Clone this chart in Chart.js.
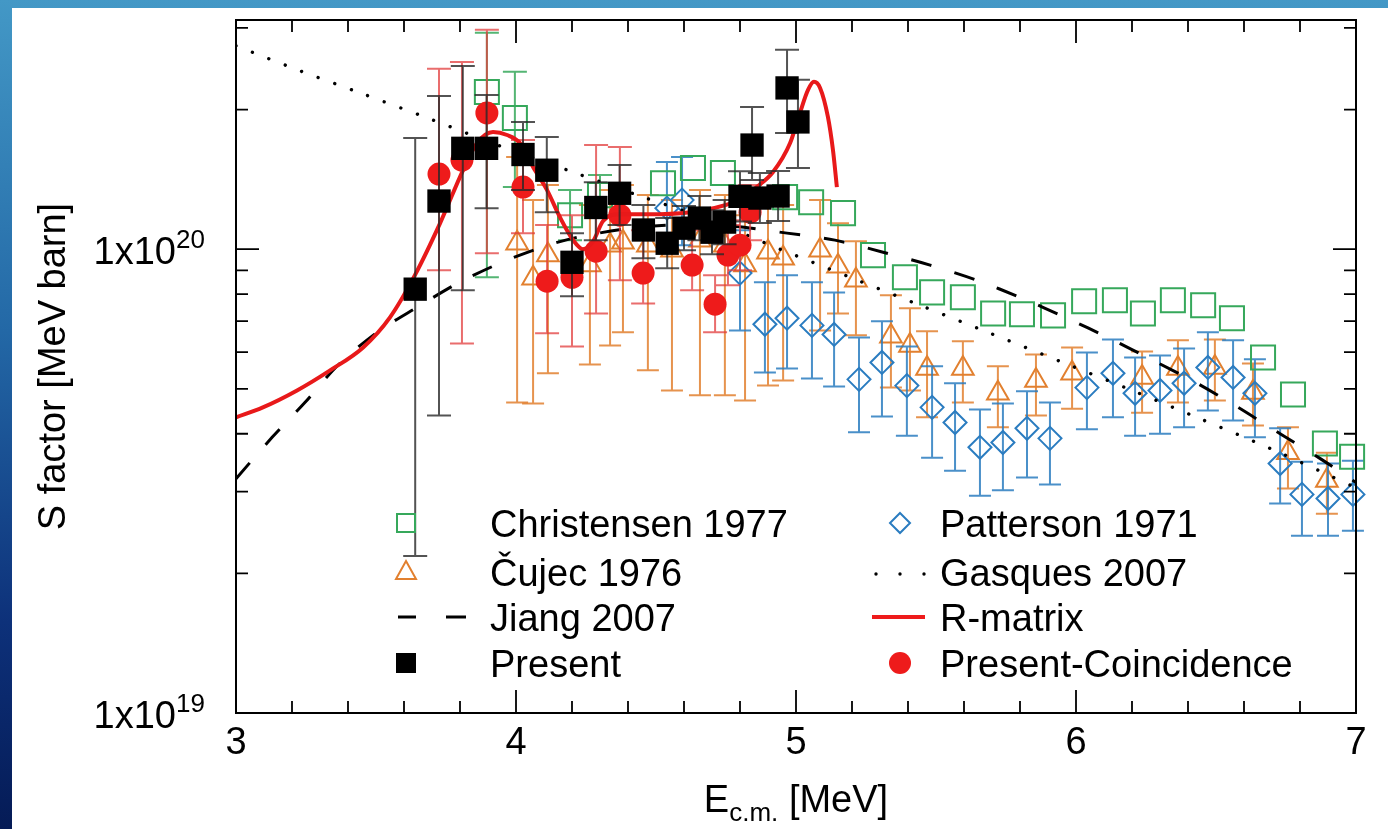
<!DOCTYPE html>
<html>
<head>
<meta charset="utf-8">
<title>S factor</title>
<script src="https://cdn.jsdelivr.net/npm/chart.js@4.4.1/dist/chart.umd.min.js"></script>
<style>
    html, body { margin: 0; padding: 0; }
    body {
        width: 1388px; height: 829px; overflow: hidden; position: relative;
        background: linear-gradient(to bottom, #4398c6 0%, #2368a6 40%, #0d317a 75%, #051b56 100%);
    }
    #panel { position: absolute; left: 12px; top: 8px; width: 1376px; height: 821px; background: #fff; }
</style>
</head>
<body>
<div id="panel"><canvas id="chart" width="1376" height="821"></canvas></div>
<script>
// S factor values are in units of 1e20 MeV barn
const UNIT = 1e20;

// Present (black squares)
const presentE  = [3.64, 3.725, 3.81, 3.895, 4.025, 4.11, 4.20, 4.285, 4.37, 4.455, 4.54, 4.60, 4.655, 4.70, 4.745, 4.80, 4.843, 4.871, 4.936, 4.968, 5.007];
const presentS  = [0.82, 1.27, 1.65, 1.65, 1.60, 1.48, 0.937, 1.23, 1.32, 1.10, 1.03, 1.11, 1.167, 1.088, 1.144, 1.30, 1.677, 1.289, 1.302, 2.227, 1.881];
const presentLo = [0.218, 0.438, 0.816, 1.226, 1.341, 1.202, 0.792, 1.046, 1.127, 0.956, 0.910, 0.995, 1.046, 0.975, 1.025, 1.148, 1.41, 1.139, 1.150, 1.781, 1.496];
const presentHi = [1.737, 2.14, 2.484, 2.151, 1.881, 1.746, 1.083, 1.395, 1.518, 1.245, 1.167, 1.239, 1.302, 1.214, 1.277, 1.472, 2.026, 1.459, 1.474, 2.69, 2.318];

// Present-Coincidence (red circles)
const coincE  = [3.725, 3.807, 3.896, 4.025, 4.111, 4.20, 4.286, 4.371, 4.454, 4.629, 4.711, 4.757, 4.80, 4.836];
const coincS  = [1.452, 1.557, 1.967, 1.361, 0.853, 0.870, 0.990, 1.184, 0.888, 0.924, 0.761, 0.971, 1.020, 1.202];
const coincLo = [0.901, 0.626, 0.980, 1.083, 0.659, 0.617, 0.727, 0.857, 0.764, 0.816, 0.662, 0.836, 0.901, 1.046];
const coincHi = [2.448, 2.534, 2.972, 1.719, 1.127, 1.184, 1.677, 1.661, 1.099, 1.099, 0.879, 1.127, 1.155, 1.375];

// Christensen 1977 (green open squares)
const chrE  = [3.896, 3.996, 4.193, 4.30, 4.525, 4.632, 4.739, 4.961, 5.054, 5.168, 5.275, 5.389, 5.486, 5.596, 5.704, 5.807, 5.918, 6.029, 6.139, 6.239, 6.346, 6.454, 6.557, 6.668, 6.775, 6.889, 6.986];
const chrS  = [2.183, 1.918, 1.184, 1.308, 1.388, 1.496, 1.459, 1.295, 1.263, 1.196, 0.971, 0.870, 0.807, 0.788, 0.727, 0.724, 0.720, 0.772, 0.776, 0.727, 0.776, 0.757, 0.710, 0.584, 0.486, 0.381, 0.357];
const chrLo = [0.870, 1.361, 1.046, 1.184];
const chrHi = [2.927, 2.412, 1.341, 1.445];

// Cujec 1976 (orange open triangles)
const cujE  = [4.004, 4.061, 4.114, 4.264, 4.336, 4.382, 4.471, 4.557, 4.657, 4.746, 4.818, 4.90, 4.954, 5.086, 5.15, 5.214, 5.339, 5.407, 5.468, 5.596, 5.721, 5.857, 5.986, 6.236, 6.364, 6.496, 6.632, 6.757, 6.896];
const cujS  = [1.030, 0.866, 0.971, 0.924, 1.020, 1.035, 1.020, 0.995, 1.046, 1.020, 0.924, 0.985, 0.956, 0.995, 0.919, 0.857, 0.649, 0.620, 0.553, 0.553, 0.489, 0.521, 0.540, 0.529, 0.553, 0.556, 0.491, 0.364, 0.317];
const cujLo = [0.467, 0.465, 0.540, 0.564, 0.620, 0.662, 0.548, 0.496, 0.484, 0.484, 0.472, 0.508, 0.521, 0.668, 0.727, 0.652, 0.503, 0.496, 0.434, 0.467, 0.413, 0.438, 0.453, 0.444, 0.467, 0.472, 0.417, 0.305, 0.269];
const cujHi = [1.580, 1.276, 1.375, 1.245, 1.341, 1.375, 1.308, 1.276, 1.341, 1.308, 1.184, 1.276, 1.245, 1.276, 1.138, 1.040, 0.796, 0.746, 0.665, 0.633, 0.559, 0.593, 0.614, 0.602, 0.636, 0.639, 0.567, 0.413, 0.364];

// Patterson 1971 (blue open diamonds)
const patE  = [4.539, 4.593, 4.80, 4.889, 4.968, 5.057, 5.136, 5.225, 5.307, 5.396, 5.486, 5.568, 5.657, 5.739, 5.825, 5.907, 6.039, 6.132, 6.211, 6.30, 6.386, 6.471, 6.561, 6.639, 6.729, 6.807, 6.90, 6.989];
const patS  = [1.226, 1.276, 0.888, 0.689, 0.710, 0.685, 0.655, 0.524, 0.570, 0.508, 0.456, 0.423, 0.374, 0.383, 0.411, 0.391, 0.503, 0.540, 0.489, 0.496, 0.514, 0.556, 0.529, 0.489, 0.345, 0.296, 0.290, 0.296];
const patLo = [0.995, 1.020, 0.668, 0.542, 0.553, 0.526, 0.506, 0.403, 0.436, 0.396, 0.355, 0.333, 0.294, 0.302, 0.322, 0.311, 0.409, 0.434, 0.396, 0.400, 0.413, 0.449, 0.427, 0.393, 0.283, 0.241, 0.241, 0.247];
const patHi = [1.541, 1.580, 1.099, 0.849, 0.879, 0.849, 0.807, 0.645, 0.699, 0.617, 0.559, 0.514, 0.451, 0.465, 0.494, 0.467, 0.599, 0.639, 0.584, 0.590, 0.611, 0.662, 0.636, 0.579, 0.411, 0.348, 0.345, 0.350];

// Jiang 2007 (dashed)
const jiangE = [3.0, 3.129, 3.246, 3.364, 3.504, 3.646, 3.793, 3.95, 4.114, 4.254, 4.479, 4.729, 4.968, 5.139, 5.311, 5.479, 5.646, 5.807, 5.968, 6.121, 6.275, 6.432, 6.579, 6.729, 6.871, 7.0];
const jiangS = [0.320, 0.393, 0.467, 0.562, 0.662, 0.749, 0.845, 0.937, 1.020, 1.072, 1.121, 1.127, 1.083, 1.046, 0.985, 0.924, 0.857, 0.784, 0.710, 0.642, 0.576, 0.514, 0.456, 0.400, 0.354, 0.314];

// Gasques 2007 (dotted)
const gasE = [3.0, 3.229, 3.443, 3.693, 3.943, 4.193, 4.443, 4.693, 4.943, 5.193, 5.443, 5.693, 5.943, 6.193, 6.443, 6.693, 7.0];
const gasS = [2.744, 2.424, 2.173, 1.909, 1.669, 1.474, 1.302, 1.155, 1.000, 0.870, 0.757, 0.659, 0.573, 0.498, 0.431, 0.372, 0.306];

// R-matrix (red curve)
const rmE = [3.0, 3.096, 3.218, 3.336, 3.454, 3.55, 3.639, 3.729, 3.811, 3.861, 3.918, 3.968, 4.014, 4.061, 4.111, 4.157, 4.204, 4.239, 4.275, 4.311, 4.371, 4.514, 4.657, 4.80, 4.864, 4.918, 4.979, 5.014, 5.043, 5.064, 5.086, 5.114, 5.132, 5.146];
const rmS = [0.434, 0.456, 0.496, 0.548, 0.614, 0.713, 0.879, 1.138, 1.481, 1.694, 1.789, 1.763, 1.694, 1.504, 1.341, 1.172, 1.046, 1.000, 1.040, 1.150, 1.190, 1.190, 1.210, 1.280, 1.368, 1.467, 1.694, 1.967, 2.205, 2.295, 2.227, 1.928, 1.636, 1.361];

// axis ticks
const xMajor = [3, 4, 5, 6, 7];
const xMinor = [3.2, 3.4, 3.6, 3.8, 4.2, 4.4, 4.6, 4.8, 5.2, 5.4, 5.6, 5.8, 6.2, 6.4, 6.6, 6.8];
const yMajor = [1e19, 1e20];
const yMinor = [2e19, 3e19, 4e19, 5e19, 6e19, 7e19, 8e19, 9e19, 2e20, 3e20];
const yLabels = [["1x10", "19"], ["1x10", "20"]];

const FONT = '"Liberation Sans", Arial, Helvetica, sans-serif';
const GREEN = "#36a85b", ORANGE = "#e2802f", BLUE = "#2a7cc0", RED = "#ee1b1b";

const pts = (xs, ys) => xs.map((v, i) => ({ x: v, y: ys[i] * UNIT }));
const errs = arr => arr.map(v => v * UNIT);

// error bars drawn just before each dataset's own markers
const errorBars = {
    id: "errorBars",
    beforeDatasetDraw(chart, args) {
        const ds = chart.data.datasets[args.index];
        if (!ds.errLo) return;
        const { ctx, scales: { x, y } } = chart;
        ctx.save();
        ctx.strokeStyle = ds.errColor;
        ctx.lineWidth = 2;
        ds.errLo.forEach((lo, i) => {
            const px = x.getPixelForValue(ds.data[i].x);
            const top = y.getPixelForValue(ds.errHi[i]);
            const bot = y.getPixelForValue(lo);
            const c = ds.capHalf;
            ctx.beginPath();
            ctx.moveTo(px, top); ctx.lineTo(px, bot);
            ctx.moveTo(px - c, top); ctx.lineTo(px + c, top);
            ctx.moveTo(px - c, bot); ctx.lineTo(px + c, bot);
            ctx.stroke();
        });
        ctx.restore();
    }
};

// frame, inward ticks, y labels with exponents, x title and legend
const decorations = {
    id: "decorations",
    afterDatasetsDraw(chart) {
        const { ctx, chartArea: a, scales: { x, y } } = chart;
        ctx.save();
        ctx.strokeStyle = "#000";
        ctx.lineWidth = 2;
        ctx.strokeRect(a.left, a.top, a.right - a.left, a.bottom - a.top);

        ctx.lineWidth = 1.8;
        ctx.beginPath();
        const xt = (v, len) => {
            const px = x.getPixelForValue(v);
            ctx.moveTo(px, a.bottom); ctx.lineTo(px, a.bottom - len);
            ctx.moveTo(px, a.top); ctx.lineTo(px, a.top + len);
        };
        const yt = (v, len) => {
            const py = y.getPixelForValue(v);
            ctx.moveTo(a.left, py); ctx.lineTo(a.left + len, py);
            ctx.moveTo(a.right, py); ctx.lineTo(a.right - len, py);
        };
        xMajor.forEach(v => xt(v, 23));
        xMinor.forEach(v => xt(v, 12));
        yMajor.forEach(v => yt(v, 23));
        yMinor.forEach(v => yt(v, 12));
        ctx.stroke();

        // y tick labels 1x10^n
        ctx.fillStyle = "#000";
        ctx.textBaseline = "alphabetic";
        yMajor.forEach((v, i) => {
            const py = y.getPixelForValue(v);
            const supX = a.left - 60;
            ctx.font = `38px ${FONT}`;
            ctx.textAlign = "right";
            ctx.fillText(yLabels[i][0], supX, py + 15);
            ctx.font = `26px ${FONT}`;
            ctx.textAlign = "left";
            ctx.fillText(yLabels[i][1], supX, py - 1);
        });

        // x title with subscript
        const parts = [["E", 38, 0], ["c.m.", 26, 9], [" [MeV]", 38, 0]];
        let total = 0;
        parts.forEach(p => { ctx.font = `${p[1]}px ${FONT}`; total += ctx.measureText(p[0]).width; });
        let tx = (a.left + a.right) / 2 - total / 2;
        const base = 804;
        ctx.textAlign = "left";
        parts.forEach(p => {
            ctx.font = `${p[1]}px ${FONT}`;
            ctx.fillText(p[0], tx, base + p[2]);
            tx += ctx.measureText(p[0]).width;
        });

        // legend
        const rows = [515, 564, 609, 655];
        const c1 = 394, c2 = 888, t1 = 478, t2 = 928;
        ctx.font = `38px ${FONT}`;
        const texts = [
            ["Christensen 1977", t1, 0], ["\u010Cujec 1976", t1, 1], ["Jiang 2007", t1, 2], ["Present", t1, 3],
            ["Patterson 1971", t2, 0], ["Gasques 2007", t2, 1], ["R-matrix", t2, 2], ["Present-Coincidence", t2, 3]
        ];
        texts.forEach(t => ctx.fillText(t[0], t[1], rows[t[2]] + 14));

        ctx.lineWidth = 2;
        ctx.strokeStyle = GREEN;
        ctx.strokeRect(c1 - 9, rows[0] - 9, 18, 18);
        ctx.strokeStyle = ORANGE;
        ctx.beginPath();
        ctx.moveTo(c1, rows[1] - 11); ctx.lineTo(c1 + 10, rows[1] + 7); ctx.lineTo(c1 - 10, rows[1] + 7); ctx.closePath();
        ctx.stroke();
        ctx.strokeStyle = "#000";
        ctx.lineWidth = 3;
        ctx.beginPath();
        ctx.moveTo(c1 - 8, rows[2]); ctx.lineTo(c1 + 10, rows[2]);
        ctx.moveTo(c1 + 40, rows[2]); ctx.lineTo(c1 + 60, rows[2]);
        ctx.stroke();
        ctx.fillStyle = "#000";
        ctx.fillRect(c1 - 10, rows[3] - 10, 20, 20);

        ctx.lineWidth = 2;
        ctx.strokeStyle = BLUE;
        ctx.beginPath();
        ctx.moveTo(c2, rows[0] - 10); ctx.lineTo(c2 + 10, rows[0]); ctx.lineTo(c2, rows[0] + 10); ctx.lineTo(c2 - 10, rows[0]); ctx.closePath();
        ctx.stroke();
        ctx.fillStyle = "#000";
        [-24, 0, 24].forEach(d => { ctx.beginPath(); ctx.arc(c2 + d, rows[1] + 2, 1.7, 0, Math.PI * 2); ctx.fill(); });
        ctx.strokeStyle = RED;
        ctx.lineWidth = 4;
        ctx.beginPath();
        ctx.moveTo(c2 - 28, rows[2]); ctx.lineTo(c2 + 25, rows[2]);
        ctx.stroke();
        ctx.fillStyle = RED;
        ctx.beginPath(); ctx.arc(c2, rows[3], 11, 0, Math.PI * 2); ctx.fill();
        ctx.restore();
    }
};

const datasets = [
    {
        label: "\u010Cujec 1976", data: pts(cujE, cujS), order: 8, clip: false,
        pointStyle: "triangle", pointRadius: 12.5, borderColor: ORANGE, backgroundColor: "rgba(0,0,0,0)", borderWidth: 2,
        errLo: errs(cujLo), errHi: errs(cujHi), errColor: "rgba(226,128,47,0.85)", capHalf: 11
    },
    {
        label: "Patterson 1971", data: pts(patE, patS), order: 7, clip: false,
        pointStyle: "rectRot", pointRadius: 11.5, borderColor: BLUE, backgroundColor: "rgba(0,0,0,0)", borderWidth: 2,
        errLo: errs(patLo), errHi: errs(patHi), errColor: "rgba(42,124,192,0.85)", capHalf: 11
    },
    {
        label: "Christensen 1977", data: pts(chrE, chrS), order: 6, clip: false,
        pointStyle: "rect", pointRadius: 17, borderColor: GREEN, backgroundColor: "rgba(0,0,0,0)", borderWidth: 2,
        errLo: errs(chrLo), errHi: errs(chrHi), errColor: "rgba(54,168,91,0.85)", capHalf: 12
    },
    {
        label: "Jiang 2007", data: pts(jiangE, jiangS), order: 5, showLine: true, pointRadius: 0,
        borderColor: "#000", borderWidth: 3, borderDash: [21, 24], tension: 0.3
    },
    {
        label: "Gasques 2007", data: pts(gasE, gasS), order: 4, showLine: true, pointRadius: 0,
        borderColor: "#000", borderWidth: 3.4, borderDash: [0.01, 17.6], borderCapStyle: "round", tension: 0.3
    },
    {
        label: "Present-Coincidence", data: pts(coincE, coincS), order: 3, clip: false,
        pointStyle: "circle", pointRadius: 11.5, backgroundColor: RED, borderColor: RED, borderWidth: 0,
        errLo: errs(coincLo), errHi: errs(coincHi), errColor: "rgba(226,60,60,0.75)", capHalf: 12
    },
    {
        label: "R-matrix", data: pts(rmE, rmS), order: 2.5, showLine: true, pointRadius: 0,
        borderColor: "#e8191a", borderWidth: 4, cubicInterpolationMode: "monotone"
    },
    {
        label: "Present", data: pts(presentE, presentS), order: 2, clip: false,
        pointStyle: "rect", pointRadius: 16.5, backgroundColor: "#000", borderColor: "#000", borderWidth: 0,
        errLo: errs(presentLo), errHi: errs(presentHi), errColor: "rgba(40,40,40,0.8)", capHalf: 12
    }
];

new Chart(document.getElementById("chart"), {
    type: "scatter",
    data: { datasets },
    options: {
        responsive: false,
        animation: false,
        events: [],
        layout: { autoPadding: false, padding: { top: 12, right: 32, left: 0, bottom: 0 } },
        plugins: { legend: { display: false }, tooltip: { enabled: false } },
        scales: {
            x: {
                type: "linear", min: 3, max: 7,
                grid: { display: false, drawTicks: false }, border: { display: false },
                ticks: { stepSize: 1, color: "#000", font: { family: FONT, size: 38 }, padding: 8 },
                afterFit: s => { s.height = 116; }
            },
            y: {
                type: "logarithmic", min: 1e19, max: 3.12e20,
                grid: { display: false, drawTicks: false }, border: { display: false },
                ticks: { display: false },
                title: { display: true, text: "S factor [MeV barn]", color: "#000", font: { family: FONT, size: 38 }, padding: { top: 20, bottom: 0 } },
                afterFit: s => { s.width = 224; }
            }
        }
    },
    plugins: [errorBars, decorations]
});
</script>
</body>
</html>
